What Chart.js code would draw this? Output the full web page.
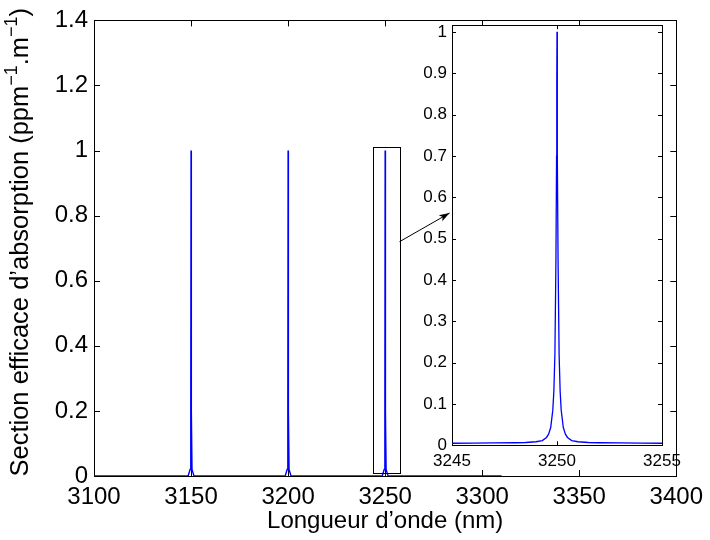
<!DOCTYPE html>
<html>
<head>
<meta charset="utf-8">
<script src="https://cdn.jsdelivr.net/npm/chart.js@4/dist/chart.umd.min.js"></script>
<style>
body { margin: 0; background: #fff; }
#wrap { position: relative; width: 710px; height: 540px; }
#main_chart { position: absolute; left: 0; top: 0; }
#zoom_chart { position: absolute; left: 410px; top: 10px; }
</style>
</head>
<body>
<div id="wrap">
<canvas id="main_chart" width="710" height="540"></canvas>
<canvas id="zoom_chart" width="280" height="470"></canvas>
</div>
<script>
// spectrum, full range (nm / ppm-1.m-1)
let mainX = [3100, 3148.5, 3149.5, 3149.85, 3150, 3150.15, 3150.5, 3151.5,
             3198.5, 3199.5, 3199.85, 3200, 3200.15, 3200.5, 3201.5,
             3248.5, 3249.5, 3249.85, 3250, 3250.15, 3250.5, 3251.5, 3310];
let mainY = [0, 0, 0.02, 0.2, 1, 0.2, 0.02, 0,
             0, 0.02, 0.2, 1, 0.2, 0.02, 0,
             0, 0.02, 0.2, 1, 0.2, 0.02, 0, 0];

// zoom on the 3250 nm line
let zoomX = [3245, 3246, 3247, 3248, 3248.5, 3249, 3249.3, 3249.5, 3249.6, 3249.7, 3249.8,
             3249.85, 3249.9, 3249.95, 3249.98, 3249.99, 3250,
             3250.01, 3250.02, 3250.05, 3250.1, 3250.15, 3250.2, 3250.3,
             3250.4, 3250.5, 3250.7, 3251, 3251.5, 3252, 3253, 3254, 3255];
let zoomY = [0.005, 0.0053, 0.0058, 0.0062, 0.0068, 0.0086, 0.0115, 0.019, 0.027, 0.043, 0.085,
             0.13, 0.22, 0.45, 0.7, 0.88, 1,
             0.88, 0.7, 0.45, 0.22, 0.13, 0.085, 0.043,
             0.027, 0.019, 0.0115, 0.0086, 0.0068, 0.0062, 0.0058, 0.0053, 0.005];

let mainXTicks = [3100, 3150, 3200, 3250, 3300, 3350, 3400];
let mainYTicks = [0, 0.2, 0.4, 0.6, 0.8, 1, 1.2, 1.4];
let zoomXTicks = [3245, 3250, 3255];
let zoomYTicks = [0, 0.1, 0.2, 0.3, 0.4, 0.5, 0.6, 0.7, 0.8, 0.9, 1];

let xTitle = 'Longueur d’onde (nm)';
// y title, superscript parts flagged
let yTitleParts = [['Section efficace d’absorption (ppm', false], ['−1', true], ['.m', false], ['−1', true], [')', false]];

const FONT = "'Liberation Sans', Arial, Helvetica, sans-serif";
Chart.defaults.font.family = FONT;
Chart.defaults.color = '#000';

function Points(xs, ys)
{
    return xs.map((x, i) => ({ x: x, y: ys[i] }));
}

function FixTicks(list)
{
    return function(scale) { scale.ticks = list.map(v => ({ value: v })); };
}

// matlab style frame, ticks pointing inward on all four sides
const boxPlugin = {
    id: 'box',
    beforeDraw(chart, args, opts) {
        if (!opts.fill) return;
        const a = chart.chartArea;
        chart.ctx.save();
        chart.ctx.fillStyle = '#fff';
        chart.ctx.fillRect(a.left, a.top, a.right - a.left, a.bottom - a.top);
        chart.ctx.restore();
    },
    beforeDatasetsDraw(chart, args, opts) {
        const ctx = chart.ctx;
        const a = chart.chartArea;
        const x = chart.scales.x, y = chart.scales.y;
        ctx.save();
        ctx.strokeStyle = '#000';
        ctx.lineWidth = 1;
        ctx.beginPath();
        x.ticks.forEach(t => {
            const px = Math.round(x.getPixelForValue(t.value)) + 0.5;
            ctx.moveTo(px, a.bottom); ctx.lineTo(px, a.bottom - opts.len);
            ctx.moveTo(px, a.top); ctx.lineTo(px, a.top + opts.len);
        });
        y.ticks.forEach(t => {
            const py = Math.round(y.getPixelForValue(t.value)) + 0.5;
            ctx.moveTo(a.left, py); ctx.lineTo(a.left + opts.len, py);
            ctx.moveTo(a.right, py); ctx.lineTo(a.right - opts.len, py);
        });
        ctx.stroke();
        ctx.strokeRect(Math.round(a.left) + 0.5, Math.round(a.top) + 0.5,
                       Math.round(a.right - a.left), Math.round(a.bottom - a.top));
        ctx.restore();
    }
};

// rectangle round the zoomed line, arrow towards the inset, rotated y title
const markPlugin = {
    id: 'mark',
    afterDraw(chart, args, opts) {
        const ctx = chart.ctx;
        const x = chart.scales.x, y = chart.scales.y;
        const r = opts.rect;
        const x0 = Math.round(x.getPixelForValue(r[0])) + 0.5;
        const x1 = Math.round(x.getPixelForValue(r[1])) + 0.5;
        const y0 = Math.round(y.getPixelForValue(r[2])) + 0.5;
        const y1 = Math.round(y.getPixelForValue(r[3])) + 0.5;
        ctx.save();
        ctx.strokeStyle = '#000';
        ctx.lineWidth = 1;
        ctx.strokeRect(x0, y1, x1 - x0, y0 - y1);

        const ax = x.getPixelForValue(opts.arrow[0]), ay = y.getPixelForValue(opts.arrow[1]);
        const bx = x.getPixelForValue(opts.arrow[2]), by = y.getPixelForValue(opts.arrow[3]);
        const ang = Math.atan2(by - ay, bx - ax);
        ctx.beginPath();
        ctx.moveTo(ax, ay);
        ctx.lineTo(bx, by);
        ctx.stroke();
        ctx.beginPath();
        ctx.moveTo(bx, by);
        ctx.lineTo(bx - 11 * Math.cos(ang - 0.32), by - 11 * Math.sin(ang - 0.32));
        ctx.lineTo(bx - 8 * Math.cos(ang), by - 8 * Math.sin(ang));
        ctx.lineTo(bx - 11 * Math.cos(ang + 0.32), by - 11 * Math.sin(ang + 0.32));
        ctx.closePath();
        ctx.fillStyle = '#000';
        ctx.fill();

        // y title with real superscripts
        const big = opts.titleSize + 'px ' + FONT;
        const small = Math.round(opts.titleSize * 0.7) + 'px ' + FONT;
        let total = 0;
        yTitleParts.forEach(p => { ctx.font = p[1] ? small : big; total += ctx.measureText(p[0]).width; });
        ctx.translate(opts.titleX, (chart.chartArea.top + chart.chartArea.bottom) / 2 - 6);
        ctx.rotate(-Math.PI / 2);
        ctx.textBaseline = 'alphabetic';
        ctx.fillStyle = '#000';
        let pos = -total / 2;
        yTitleParts.forEach(p => {
            ctx.font = p[1] ? small : big;
            ctx.fillText(p[0], pos, p[1] ? -opts.titleSize * 0.42 : 0);
            pos += ctx.measureText(p[0]).width;
        });
        ctx.restore();
    }
};

let mainChart = new Chart(document.getElementById('main_chart').getContext('2d'), {
    type: 'line',
    data: {
        datasets: [{
            data: Points(mainX, mainY),
            borderColor: '#0000ff',
            borderWidth: 1.4,
            pointRadius: 0,
            tension: 0
        }]
    },
    options: {
        responsive: false,
        animation: false,
        events: [],
        layout: { padding: { left: 0, top: 14, right: 29, bottom: 0 } },
        plugins: {
            legend: { display: false },
            tooltip: { enabled: false },
            box: { len: 6 },
            mark: { rect: [3243.6, 3257.4, 0.008, 1.01], arrow: [3257.4, 0.72, 3283.2, 0.808], titleX: 28, titleSize: 25.5 }
        },
        scales: {
            x: {
                type: 'linear',
                min: 3100, max: 3400,
                afterBuildTicks: FixTicks(mainXTicks),
                afterFit: s => { s.height = 64; },
                grid: { display: false, drawTicks: false },
                border: { display: false },
                ticks: { font: { size: 24 }, padding: 7, maxRotation: 0, callback: v => String(v) },
                title: { display: true, text: xTitle, font: { size: 24 }, padding: { top: 0, bottom: 4 } }
            },
            y: {
                min: 0, max: 1.4,
                afterBuildTicks: FixTicks(mainYTicks),
                afterFit: s => { s.width = 94; },
                grid: { display: false, drawTicks: false },
                border: { display: false },
                ticks: { font: { size: 24 }, padding: 6, callback: v => String(v) }
            }
        }
    },
    plugins: [boxPlugin, markPlugin]
});

let zoomChart = new Chart(document.getElementById('zoom_chart').getContext('2d'), {
    type: 'line',
    data: {
        datasets: [{
            data: Points(zoomX, zoomY),
            borderColor: '#0000ff',
            borderWidth: 1.3,
            pointRadius: 0,
            tension: 0
        }]
    },
    options: {
        responsive: false,
        animation: false,
        events: [],
        layout: { padding: { left: 0, top: 13.3, right: 28, bottom: 0 } },
        plugins: {
            legend: { display: false },
            tooltip: { enabled: false },
            box: { len: 4, fill: true }
        },
        scales: {
            x: {
                type: 'linear',
                min: 3245, max: 3255,
                afterBuildTicks: FixTicks(zoomXTicks),
                afterFit: s => { s.height = 34.7; },
                grid: { display: false, drawTicks: false },
                border: { display: false },
                ticks: { font: { size: 17 }, padding: 6, maxRotation: 0, callback: v => String(v) }
            },
            y: {
                min: 0, max: 1.016,
                afterBuildTicks: FixTicks(zoomYTicks),
                afterFit: s => { s.width = 42; },
                grid: { display: false, drawTicks: false },
                border: { display: false },
                ticks: { font: { size: 17 }, padding: 5, callback: v => String(v) }
            }
        }
    },
    plugins: [boxPlugin]
});
</script>
</body>
</html>
